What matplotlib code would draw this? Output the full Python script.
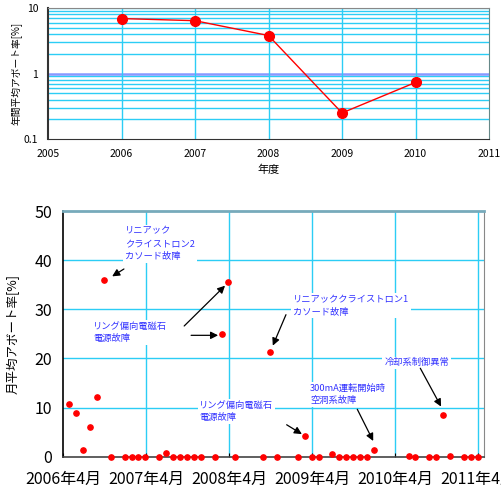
import matplotlib
matplotlib.use('Agg')
import matplotlib.pyplot as plt
from matplotlib.ticker import NullFormatter
import numpy as np

plt.rcParams['font.family'] = ['Noto Sans CJK JP', 'DejaVu Sans']

# yearly abort rate [%]
years = [2006, 2007, 2008, 2009, 2010]
year_rate = [6.9, 6.4, 3.8, 0.25, 0.73]

# monthly abort rate [%], April 2006 .. March 2011 (None = no point)
month_rate = [10.8, 8.8, 1.4, 6.0, 12.1, 35.9, 0, None, 0, 0, 0, 0,
              None, 0, 0.7, 0, 0, 0, 0, 0, None, 0, 24.9, 35.5,
              0, None, None, None, 0, 21.4, 0, None, None, 0, 4.3, 0,
              0, None, 0.5, 0, 0, 0, 0, 0, 1.3, None, None, None,
              None, 0.2, 0, None, 0, 0, 8.5, 0.2, None, 0, 0, 0]
year_ticks = ['2006年4月', '2007年4月', '2008年4月', '2009年4月', '2010年4月', '2011年4月']

grid_c = '#2ccdf5'
note_c = '#3333ff'

fig = plt.figure(figsize=(5.01, 4.90), dpi=100)

# ---- top: yearly, log scale
ax1 = fig.add_axes([48/501, 1-139/490, 441/501, 131/490])
ax1.set_yscale('log')
ax1.set_xlim(2005, 2011)
ax1.set_ylim(0.1, 10)
minor = [m*10.0**e for e in (-1, 0) for m in range(2, 10)]
for v in minor:
    ax1.axhline(v, color=grid_c, lw=1, zorder=1)
ax1.axhline(10, color=grid_c, lw=1, zorder=1)
ax1.axhline(1, color='#8899ff', lw=1.8, zorder=1)
for yr in range(2006, 2011):
    ax1.axvline(yr, color=grid_c, lw=1, zorder=1)
ax1.plot(years, year_rate, color='red', lw=1, marker='o', ms=7, zorder=3)
ax1.set_xticks(range(2005, 2012))
ax1.set_yticks([0.1, 1, 10])
ax1.set_yticklabels(['0.1', '1', '10'])
ax1.yaxis.set_minor_formatter(NullFormatter())
ax1.tick_params(axis='both', which='both', labelsize=7.5, length=0, pad=7)
ax1.set_xlabel('年度', fontsize=8, labelpad=4)
ax1.set_ylabel('年間平均アボート率[%]', fontsize=7)
ax1.yaxis.set_label_coords(-0.058, 0.5)
ax1.spines['left'].set_color('#333333')
ax1.spines['left'].set_linewidth(1.5)
ax1.spines['bottom'].set_color('#333333')
ax1.spines['top'].set_color('#888888')
ax1.spines['right'].set_color('#668888')

# ---- bottom: monthly
ax2 = fig.add_axes([63/501, 1-456.7/490, 421/501, 245.7/490])
x = np.arange(len(month_rate)) + 0.9
y = np.array([np.nan if v is None else v for v in month_rate], dtype=float)
ax2.plot(x, y, 'o', color='red', ms=3.8, zorder=4, clip_on=False)
ax2.set_xlim(0, 60.8)
ax2.set_ylim(0, 50)
ax2.set_xticks(np.arange(0, 61, 12))
ax2.set_xticklabels(year_ticks)
ax2.set_yticks(range(0, 51, 10))
for v in range(10, 50, 10):
    ax2.axhline(v, color=grid_c, lw=1, zorder=1)
for t in range(12, 61, 12):
    ax2.axvline(t, color=grid_c, lw=1, zorder=1)
ax2.tick_params(axis='both', labelsize=11.5, length=0, pad=8)
ax2.tick_params(axis='x', length=3, direction='in', pad=10)
ax2.set_ylabel('月平均アボート率[%]', fontsize=9)
ax2.yaxis.set_label_coords(-0.104, 0.5)
ax2.spines['left'].set_color('black')
ax2.spines['left'].set_linewidth(1.2)
ax2.spines['bottom'].set_color('#444444')
ax2.spines['bottom'].set_linewidth(1.2)
ax2.spines['top'].set_color('#77aabb')
ax2.spines['top'].set_linewidth(2)
ax2.spines['right'].set_color('#888888')

notes = [
    ('リニアック\nクライストロン2\nカソード故障', 9.0, 46.8),
    ('リング偏向電磁石\n電源故障', 4.3, 27.5),
    ('リニアッククライストロン1\nカソード故障', 33.2, 32.9),
    ('リング偏向電磁石\n電源故障', 19.7, 11.4),
    ('300mA運転開始時\n空洞系故障', 35.7, 14.9),
    ('冷却系制御異常', 46.4, 20.0),
]
for txt, tx, ty in notes:
    ax2.text(tx, ty, txt, color=note_c, fontsize=6.7, ha='left', va='top',
             linespacing=1.5, zorder=3,
             bbox=dict(boxstyle='square,pad=0.2', fc='white', ec='none'))

arrows = [
    ((8.8, 38.2), (7.1, 36.7)),
    ((17.5, 26.6), (23.4, 34.8)),
    ((18.5, 24.7), (22.4, 24.7)),
    ((32.2, 28.9), (30.3, 22.6)),
    ((32.3, 6.5), (34.5, 4.6)),
    ((42.5, 9.65), (44.8, 3.2)),
    ((51.6, 18.0), (54.6, 10.2)),
]
for tail, head in arrows:
    ax2.annotate('', xy=head, xytext=tail, zorder=5,
                 arrowprops=dict(arrowstyle='-|>', color='black', lw=0.9,
                                 mutation_scale=11, shrinkA=0, shrinkB=0))

fig.savefig('out.png', dpi=100)
